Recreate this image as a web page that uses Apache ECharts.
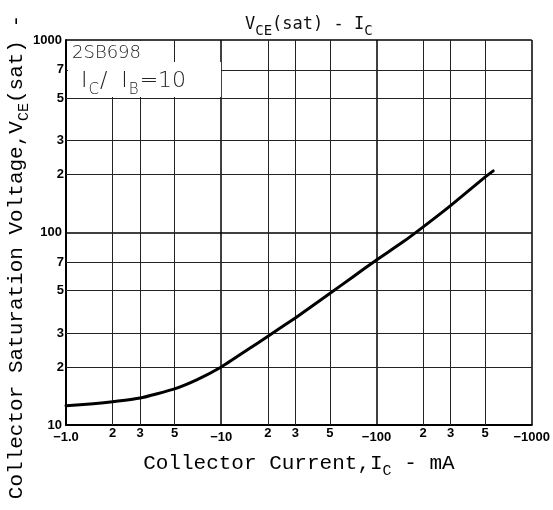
<!DOCTYPE html>
<html><head><meta charset="utf-8">
<script src="https://cdn.jsdelivr.net/npm/echarts@6/dist/echarts.min.js"></script>
<style>html,body{margin:0;padding:0;background:#fff}#c{width:553px;height:510px}</style>
</head><body><div id="c"></div>
<script>
const xMajor = [1, 10, 100, 1000];
const xMajorLabels = ['−1.0', '−10', '−100', '−1000'];
const xMinor = [2, 3, 5, 20, 30, 50, 200, 300, 500];
const xMinorLabels = ['2', '3', '5', '2', '3', '5', '2', '3', '5'];
const yMajor = [10, 100, 1000];
const yMajorLabels = ['10', '100', '1000'];
const yMinor = [20, 30, 50, 70, 200, 300, 500, 700];
const yMinorLabels = ['2', '3', '5', '7', '2', '3', '5', '7'];
const icValues = [1, 1.5, 2, 3, 5, 7, 10, 15, 20, 30, 50, 70, 100, 150, 200, 300, 500, 565];
const vceValues = [12.6, 12.9, 13.2, 13.8, 15.4, 17.2, 20, 24.8, 28.9, 36, 48.2, 58.6, 72, 90, 107, 138, 194, 209];

const tickFont = 'Liberation Sans Narrow, Liberation Sans, Arial';
const monoFont = 'Liberation Mono, DejaVu Sans Mono, monospace';

const chart = echarts.init(document.getElementById('c'));
const gl = {color: '#222', width: 1, type: 'solid'};

const minorX = xMinor.map((v, i) => ({xAxis: v, name: xMinorLabels[i]}));
const minorY = yMinor.map((v, i) => ({yAxis: v, name: yMinorLabels[i]}));

function majorLabel(vals, labels) {
  return function (v) {
    for (let i = 0; i < vals.length; i++) {
      if (Math.abs(v - vals[i]) / vals[i] < 1e-6) return labels[i];
    }
    return '';
  };
}

const titleRich = {
  a: {fontFamily: monoFont, fontSize: 21, fontWeight: 'normal', color: '#000', verticalAlign: 'bottom', lineHeight: 24},
  s: {fontFamily: monoFont, fontSize: 15, fontWeight: 'normal', color: '#000', verticalAlign: 'bottom', padding: [0, 0, -5, 0], lineHeight: 24}
};
const yTitleRich = {
  a: {fontFamily: monoFont, fontSize: 21, fontWeight: 'normal', fill: '#000', verticalAlign: 'bottom', lineHeight: 24},
  s: {fontFamily: monoFont, fontSize: 15, fontWeight: 'normal', fill: '#000', verticalAlign: 'bottom', padding: [0, 0, -5, 0], lineHeight: 24}
};

chart.setOption({
  animation: false,
  backgroundColor: '#fff',
  title: {
    text: '{a|V}{s|CE}{a|(sat) - I}{s|C}',
    left: 240, top: 6,
    textStyle: {
      rich: {
        a: {fontFamily: 'DejaVu Sans Mono', fontSize: 17, fontWeight: 'normal', color: '#111', verticalAlign: 'bottom', lineHeight: 22},
        s: {fontFamily: 'DejaVu Sans Mono', fontSize: 14, fontWeight: 'normal', color: '#111', verticalAlign: 'bottom', padding: [0, 0, -5, 0], lineHeight: 22}
      }
    }
  },
  grid: {left: 66, right: 19, top: 40, bottom: 85},
  xAxis: {
    type: 'log', logBase: 10, min: 1, max: 1000,
    axisLine: {show: true, onZero: false, lineStyle: {color: '#000', width: 2}},
    axisTick: {show: false},
    minorTick: {show: false},
    splitLine: {show: true, lineStyle: {color: '#000', width: 1.5}},
    axisLabel: {
      formatter: majorLabel(xMajor, xMajorLabels),
      fontFamily: tickFont, fontWeight: 'bold', fontSize: 13, color: '#000', margin: 6
    },
    name: '{a|Collector Current,I}{s|C}{a| - mA}',
    nameLocation: 'middle', nameGap: 25,
    nameTextStyle: {rich: titleRich}
  },
  yAxis: {
    type: 'log', logBase: 10, min: 10, max: 1000,
    axisLine: {show: true, onZero: false, lineStyle: {color: '#000', width: 2}},
    axisTick: {show: false},
    minorTick: {show: false},
    splitLine: {show: true, lineStyle: {color: '#000', width: 1.5}},
    axisLabel: {
      formatter: majorLabel(yMajor, yMajorLabels),
      fontFamily: tickFont, fontWeight: 'bold', fontSize: 13, color: '#000', margin: 4
    }
  },
  graphic: [
    {type: 'rect', shape: {x: 68, y: 41, width: 105, height: 21}, style: {fill: '#fff'}, z: 50},
    {type: 'rect', shape: {x: 68, y: 62, width: 153, height: 35}, style: {fill: '#fff'}, z: 50},
    {type: 'text', x: 72, y: 44, z: 51, style: {text: '2SB698', font: '200 18px "DejaVu Sans"', fill: '#222'}},
    {type: 'text', x: 81, y: 64, z: 51, style: {
      text: '{a|I}{s|C}{a|∕  I}{s|B}{a|=10}',
      rich: {
        a: {fontFamily: 'DejaVu Sans', fontWeight: 200, fontSize: 22, fill: '#222', verticalAlign: 'bottom', lineHeight: 28},
        s: {fontFamily: 'DejaVu Sans', fontWeight: 200, fontSize: 15, fill: '#222', verticalAlign: 'bottom', padding: [0, 1, -6, 1], lineHeight: 28}
      }
    }},
    {type: 'text', x: 15, y: 257, rotation: Math.PI / 2, z: 51, style: {
      text: '{a|Collector Saturation Voltage,V}{s|CE}{a|(sat) -}',
      align: 'center', verticalAlign: 'middle',
      rich: yTitleRich
    }}
  ],
  series: [
    {
      type: 'line', data: icValues.map((x, i) => [x, vceValues[i]]),
      smooth: 0.15, symbol: 'none',
      lineStyle: {color: '#000', width: 3, join: 'round', cap: 'round'},
      z: 10
    },
    {
      type: 'line', data: [], symbol: 'none',
      markLine: {
        silent: true, symbol: 'none', animation: false,
        lineStyle: gl,
        label: {show: true, position: 'start', formatter: '{b}', fontFamily: tickFont, fontWeight: 'bold', fontSize: 13, color: '#000', distance: 2},
        data: minorX
      }
    },
    {
      type: 'line', data: [], symbol: 'none',
      markLine: {
        silent: true, symbol: 'none', animation: false,
        lineStyle: gl,
        label: {show: true, position: 'start', formatter: '{b}', fontFamily: tickFont, fontWeight: 'bold', fontSize: 13, color: '#000', distance: 2},
        data: minorY
      }
    }
  ]
});
</script></body></html>
